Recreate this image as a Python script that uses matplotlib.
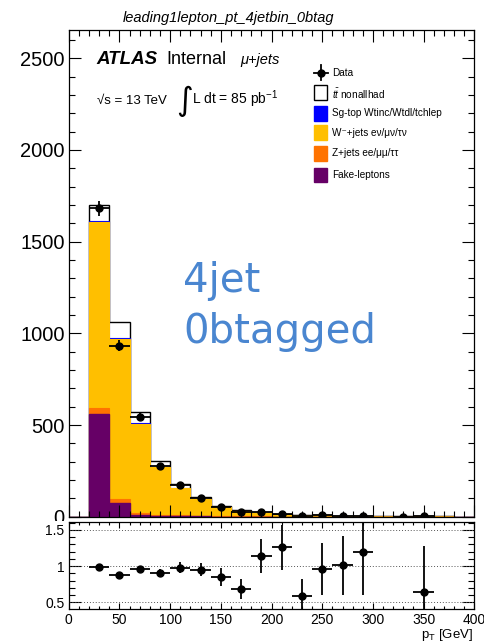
import numpy as np
import matplotlib.pyplot as plt
from matplotlib.patches import Rectangle
from matplotlib.ticker import MultipleLocator
from matplotlib.transforms import Bbox, TransformedBbox

plt.rcParams['font.family'] = ['Liberation Sans', 'DejaVu Sans']
plt.rcParams['mathtext.fontset'] = 'custom'
plt.rcParams['mathtext.rm'] = 'Liberation Sans'
plt.rcParams['mathtext.it'] = 'Liberation Sans:italic'
plt.rcParams['mathtext.bf'] = 'Liberation Sans:bold'

# 20 GeV bins from 0 to 400 GeV (first bin is empty)
edges = np.arange(0, 401, 20)

# MC backgrounds per bin (events)
fake = [0, 558, 73, 9, 3, 1.5, 1.0, 0.5, 0.3, 0.2, 0.1, 0.1, 0.1, 0.05, 0.05, 0.03, 0.02, 0.02, 0.01, 0.01]
zjets = [0, 36, 23, 13, 8, 5, 3, 2, 1.2, 0.8, 0.5, 0.4, 0.3, 0.25, 0.15, 0.1, 0.08, 0.07, 0.05, 0.04]
wjets = [0, 1013, 871, 483, 258, 150, 90, 50, 29.5, 17.5, 10.6, 8.5, 6.1, 5.0, 2.8, 2.1, 1.6, 1.3, 1.0, 0.8]
sgtop = [0, 5, 6, 6, 4, 2.5, 1.5, 1.0, 0.6, 0.4, 0.2, 0.2, 0.1, 0.1, 0.06, 0.05, 0.03, 0.03, 0.02, 0.02]
ttbar = [0, 89, 90, 58, 32, 17, 10.5, 6.5, 3.7, 2.1, 1.3, 1.0, 0.7, 0.54, 0.3, 0.22, 0.17, 0.14, 0.1, 0.08]

# data (bin centres and counts)
data_x = [30, 50, 70, 90, 110, 130, 150, 170, 190, 210, 230, 250, 270, 290, 330, 350]
data_n = [1682, 932, 545, 276, 172, 101, 51, 24, 24, 16, 6, 7, 6, 4, 0, 1]

# cumulative stack
c1 = np.array(fake)
c2 = c1 + np.array(zjets)
c3 = c2 + np.array(wjets)
c4 = c3 + np.array(sgtop)
c5 = c4 + np.array(ttbar)

col_w = '#ffbf00'
col_z = '#ff7300'
col_fake = '#660066'
col_sg = '#0000ff'

fig = plt.figure(figsize=(4.85, 6.42), dpi=100)
ax = fig.add_axes([0.1417, 0.1952, 0.8363, 0.7585])
rax = fig.add_axes([0.1417, 0.0514, 0.8363, 0.1355])

# stacked histograms, drawn from the top down
ax.stairs(c5, edges, fill=True, facecolor='white', edgecolor='black', lw=1.0)
ax.stairs(c4, edges, fill=True, facecolor=col_sg, edgecolor=col_sg, lw=0.8)
ax.stairs(c3, edges, fill=True, facecolor=col_w, edgecolor=col_w, lw=0.8)
ax.stairs(c2, edges, fill=True, facecolor=col_z, edgecolor=col_z, lw=0.8)
ax.stairs(c1, edges, fill=True, facecolor=col_fake, edgecolor=col_fake, lw=1.0)

dx = np.array(data_x)
dn = np.array(data_n, dtype=float)
ax.errorbar(dx, dn, xerr=10, yerr=np.sqrt(dn), fmt='o', color='black',
            ms=5, lw=1.3, capsize=0, zorder=5)

ax.set_xlim(0, 400)
ax.set_ylim(0, 2656)
ax.xaxis.set_major_locator(MultipleLocator(50))
ax.xaxis.set_minor_locator(MultipleLocator(10))
ax.yaxis.set_major_locator(MultipleLocator(500))
ax.yaxis.set_minor_locator(MultipleLocator(100))
ax.tick_params(which='both', direction='in', top=True, right=True, labelbottom=False)
ax.tick_params(which='major', length=8.5, width=0.8, labelsize=14.5, pad=3)
ax.tick_params(which='minor', length=4.3, width=0.8)

fig.text(123 / 485, 1 - 22 / 642, 'leading1lepton_pt_4jetbin_0btag', fontsize=10.5,
         style='italic', ha='left', va='baseline')

# ATLAS label block
ax.text(0.067, 0.929, 'ATLAS', transform=ax.transAxes, fontsize=13.5,
        weight='bold', style='italic', va='baseline')
ax.text(0.240, 0.929, 'Internal', transform=ax.transAxes, fontsize=13, va='baseline')
ax.text(0.422, 0.929, 'μ+jets', transform=ax.transAxes, fontsize=10.5,
        style='italic', va='baseline')
ax.text(0.069, 0.847, '√s = 13 TeV', transform=ax.transAxes, fontsize=9.5, va='baseline')
ax.text(0.266, 0.852, '∫', transform=ax.transAxes, fontsize=23, va='center',
        family=['DejaVu Sans'])
ax.text(0.305, 0.847, r'L dt = 85 pb$^{\mathregular{-1}}$', transform=ax.transAxes,
        fontsize=10, va='baseline')

# big category label
ax.text(0.2826, 0.462, '4jet', transform=ax.transAxes, fontsize=29,
        color='#4a86d0', family=['DejaVu Sans'], va='baseline')
ax.text(0.2826, 0.357, '0btagged', transform=ax.transAxes, fontsize=29,
        color='#4a86d0', family=['DejaVu Sans'], va='baseline')

# legend
lx0, lw_box, lh_box, tx = 0.6048, 0.0313, 0.030, 0.6484
ax.plot([0.6036, 0.6401], [0.9117, 0.9117], color='black', lw=1.3, transform=ax.transAxes, clip_on=False)
ax.plot([0.6218, 0.6218], [0.8967, 0.9267], color='black', lw=1.3, transform=ax.transAxes, clip_on=False)
ax.plot([0.6218], [0.9117], 'o', color='black', ms=5, transform=ax.transAxes, clip_on=False)
ax.text(tx, 0.9117, 'Data', transform=ax.transAxes, fontsize=7.2, va='center')
entries = [
    ('white', r'$t\bar{t}$ nonallhad', 0.8706),
    (col_sg, 'Sg-top Wtinc/Wtdl/tchlep', 0.8283),
    (col_w, 'W⁻+jets eν/μν/τν', 0.7885),
    (col_z, 'Z+jets ee/μμ/ττ', 0.7462),
    (col_fake, 'Fake-leptons', 0.7017),
]
for fc, label, yc in entries:
    ec = 'black' if fc == 'white' else fc
    ax.add_patch(Rectangle((lx0, yc - lh_box / 2), lw_box, lh_box, transform=ax.transAxes,
                           facecolor=fc, edgecolor=ec, lw=1.0, clip_on=False))
    ax.text(tx, yc, label, transform=ax.transAxes, fontsize=7.2, va='center')

# ratio panel
mc_tot = np.array([c5[int((x - 10) // 20)] for x in data_x])
keep = dn > 0
ratio = dn[keep] / mc_tot[keep]
rerr = np.sqrt(dn[keep]) / mc_tot[keep]
for yl in [0.5, 1.0, 1.5]:
    rax.axhline(yl, color='#555555', lw=0.7, ls=(0, (1, 2)))
rax.errorbar(dx[keep], ratio, xerr=10, yerr=rerr, fmt='o', color='black',
             ms=5, lw=1.3, capsize=0, zorder=5)
rax.set_xlim(0, 400)
rax.set_ylim(0.407, 1.61)
rax.xaxis.set_major_locator(MultipleLocator(50))
rax.xaxis.set_minor_locator(MultipleLocator(10))
rax.set_yticks([0.5, 1.0, 1.5])
rax.set_yticklabels(['0.5', '1', '1.5'])
rax.yaxis.set_minor_locator(MultipleLocator(0.1))
rax.tick_params(which='both', direction='in', top=True, right=True, labelsize=10)
rax.tick_params(axis='y', which='major', length=8.5, width=0.8, pad=3)
rax.tick_params(axis='y', which='minor', length=4.3, width=0.8)
rax.tick_params(axis='x', which='major', length=4.5, width=0.8, pad=3)
rax.tick_params(axis='x', which='minor', length=2.3, width=0.8)

fig.text(473 / 485, 1 - 638 / 642, r'p$_{\mathregular{T}}$ [GeV]', ha='right',
         va='baseline', fontsize=9.5)

for a in (ax, rax):
    for s in a.spines.values():
        s.set_linewidth(0.9)

# the main-panel "0" label is cut off by the ratio pad
fig.canvas.draw()
clip = TransformedBbox(Bbox([[0, 0.1885], [1, 1]]), fig.transFigure)
for tk in ax.yaxis.get_major_ticks():
    tk.label1.set_clip_box(clip)
    tk.label1.set_clip_on(True)

fig.savefig('out.png', dpi=100)
